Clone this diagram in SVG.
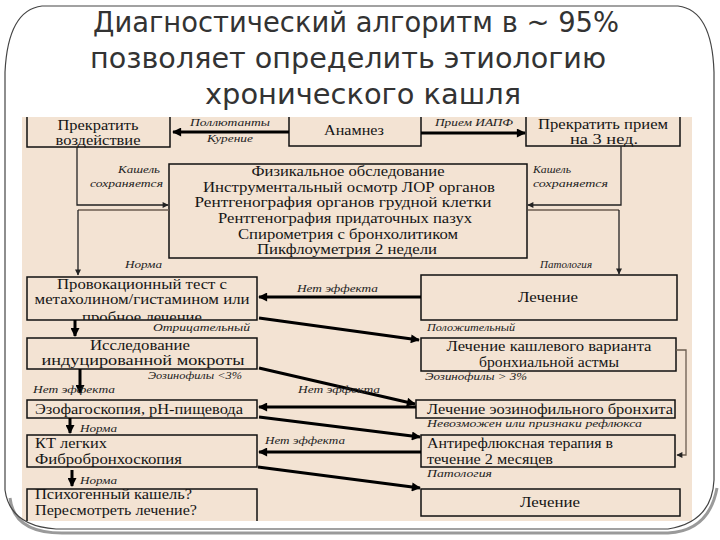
<svg xmlns="http://www.w3.org/2000/svg" width="720" height="540" viewBox="0 0 720 540">
<defs>
<style>
.title{font-family:"DejaVu Sans","Noto Sans",sans-serif;font-size:28px;fill:#333;text-anchor:middle}
.bx{fill:#F3E3D3;stroke:#111;stroke-width:1.5}
.t{font-family:"Liberation Serif","Times New Roman",serif;font-size:15px;fill:#151515}
.c{text-anchor:middle}
.lb{font-family:"Liberation Serif","Times New Roman",serif;font-style:italic;font-size:11px;fill:#222}
.thick{stroke:#000;stroke-width:3;fill:none}
.thin{stroke:#222;stroke-width:1.3;fill:none}
.gray{stroke:#6b5d50;stroke-width:1.3;fill:none}
</style>
<marker id="ah" viewBox="0 0 10 10" refX="9" refY="5" markerWidth="11" markerHeight="9" markerUnits="userSpaceOnUse" orient="auto"><path d="M0,0 L10,5 L0,10 Z" fill="#000"/></marker>
<marker id="as" viewBox="0 0 10 10" refX="9" refY="5" markerWidth="8" markerHeight="6" markerUnits="userSpaceOnUse" orient="auto"><path d="M0,0 L10,5 L0,10 Z" fill="#222"/></marker>
<clipPath id="frameClip"><path d="M42,6 H678 Q712,10 714,72 V480 Q712,522 668,529 H56 Q10,526 5,490 V72 Q8,10 42,6 Z"/></clipPath>
<clipPath id="imgClip"><rect x="22" y="117" width="670" height="404"/></clipPath>
<clipPath id="provClip"><rect x="27" y="277" width="230" height="43"/></clipPath>
<clipPath id="psyClip"><rect x="27" y="489" width="230" height="40"/></clipPath>
</defs>
<rect width="720" height="540" fill="#fff"/>
<g id="title">
<text class="title" x="356" y="32" textLength="526" lengthAdjust="spacingAndGlyphs">Диагностический алгоритм в ~ 95%</text>
<text class="title" x="348" y="68" textLength="516" lengthAdjust="spacingAndGlyphs">позволяет определить этиологию</text>
<text class="title" x="363" y="104" textLength="316" lengthAdjust="spacingAndGlyphs">хронического кашля</text>
</g>
<g clip-path="url(#frameClip)">
<g clip-path="url(#imgClip)">
<rect x="22" y="117" width="670" height="404" fill="#F3E3D3"/>
<g id="n-stop-exposure"><rect class="bx" x="27" y="105" width="143" height="42"/>
<text class="t c" x="98" y="130" textLength="81" lengthAdjust="spacingAndGlyphs">Прекратить</text>
<text class="t c" x="98" y="145" textLength="85" lengthAdjust="spacingAndGlyphs">воздействие</text></g>
<g id="n-anamnesis"><rect class="bx" x="289" y="105" width="132" height="41"/>
<text class="t c" x="354" y="135" textLength="60" lengthAdjust="spacingAndGlyphs">Анамнез</text></g>
<g id="n-stop-ace"><rect class="bx" x="526" y="105" width="154" height="41"/>
<text class="t c" x="603" y="129" textLength="130" lengthAdjust="spacingAndGlyphs">Прекратить прием</text>
<text class="t c" x="604" y="144" textLength="68" lengthAdjust="spacingAndGlyphs">на 3 нед.</text></g>
<g id="n-exam"><rect class="bx" x="169" y="164" width="358" height="94"/>
<text class="t c" x="348" y="176" textLength="193" lengthAdjust="spacingAndGlyphs">Физикальное обследование</text>
<text class="t c" x="349" y="192" textLength="292" lengthAdjust="spacingAndGlyphs">Инструментальный осмотр ЛОР органов</text>
<text class="t c" x="343" y="207" textLength="297" lengthAdjust="spacingAndGlyphs">Рентгенография органов грудной клетки</text>
<text class="t c" x="345" y="223" textLength="254" lengthAdjust="spacingAndGlyphs">Рентгенография  придаточных пазух</text>
<text class="t c" x="348" y="239" textLength="220" lengthAdjust="spacingAndGlyphs">Спирометрия с бронхолитиком</text>
<text class="t c" x="347" y="254" textLength="180" lengthAdjust="spacingAndGlyphs">Пикфлоуметрия 2 недели</text></g>
<g id="n-provocation"><rect class="bx" x="27" y="277" width="230" height="43"/>
<g clip-path="url(#provClip)">
<text class="t c" x="142" y="289" textLength="170" lengthAdjust="spacingAndGlyphs">Провокационный тест с</text>
<text class="t c" x="142" y="304" textLength="215" lengthAdjust="spacingAndGlyphs">метахолином/гистамином или</text>
<text class="t c" x="142" y="322" textLength="120" lengthAdjust="spacingAndGlyphs">пробное лечение</text></g></g>
<g id="n-sputum"><rect class="bx" x="27" y="338" width="230" height="31"/>
<text class="t c" x="140" y="350" textLength="100" lengthAdjust="spacingAndGlyphs">Исследование</text>
<text class="t c" x="143" y="365" textLength="203" lengthAdjust="spacingAndGlyphs">индуцированной мокроты</text></g>
<g id="n-esophago"><rect class="bx" x="27" y="400" width="230" height="18"/>
<text class="t" x="35" y="414" textLength="208" lengthAdjust="spacingAndGlyphs">Эзофагоскопия, pH-пищевода</text></g>
<g id="n-ct"><rect class="bx" x="27" y="435" width="230" height="32"/>
<text class="t" x="35" y="448" textLength="72" lengthAdjust="spacingAndGlyphs">КТ легких</text>
<text class="t" x="35" y="464" textLength="147" lengthAdjust="spacingAndGlyphs">Фибробронхоскопия</text></g>
<g id="n-psycho"><rect class="bx" x="27" y="489" width="230" height="50"/>
<g clip-path="url(#psyClip)">
<text class="t" x="35" y="499" textLength="157" lengthAdjust="spacingAndGlyphs">Психогенный кашель?</text></g>
<text class="t" x="35" y="515" textLength="162" lengthAdjust="spacingAndGlyphs">Пересмотреть лечение?</text></g>
<g id="n-treat1"><rect class="bx" x="421" y="275" width="256" height="45"/>
<text class="t c" x="548" y="302" textLength="60" lengthAdjust="spacingAndGlyphs">Лечение</text></g>
<g id="n-asthma"><rect class="bx" x="421" y="338" width="255" height="33"/>
<text class="t c" x="549" y="351" textLength="205" lengthAdjust="spacingAndGlyphs">Лечение кашлевого варианта</text>
<text class="t c" x="549" y="367" textLength="140" lengthAdjust="spacingAndGlyphs">бронхиальной астмы</text></g>
<g id="n-eos"><rect class="bx" x="416" y="400" width="259" height="18"/>
<text class="t" x="427" y="414" textLength="246" lengthAdjust="spacingAndGlyphs">Лечение эозинофильного бронхита</text></g>
<g id="n-antireflux"><rect class="bx" x="421" y="435" width="254" height="32"/>
<text class="t" x="427" y="448" textLength="186" lengthAdjust="spacingAndGlyphs">Антирефлюксная терапия в</text>
<text class="t" x="427" y="464" textLength="126" lengthAdjust="spacingAndGlyphs">течение 2 месяцев</text></g>
<g id="n-treat2"><rect class="bx" x="421" y="489" width="259" height="27"/>
<text class="t c" x="550" y="507" textLength="60" lengthAdjust="spacingAndGlyphs">Лечение</text></g>
<g id="connectors">
<path class="thick" d="M289,132 H173" marker-end="url(#ah)"/>
<path class="thick" d="M421,133 H525" marker-end="url(#ah)"/>
<path class="thin" d="M77,147 V205 H168" marker-end="url(#as)"/>
<path class="gray" d="M169,210 H78"/>
<path class="thin" d="M78,210 V275" marker-end="url(#as)"/>
<path class="thin" d="M621,146 V205 H528" marker-end="url(#as)"/>
<path class="gray" d="M528,210 H619"/>
<path class="thin" d="M619,210 V274" marker-end="url(#as)"/>
<path class="thick" d="M75,320 V336" marker-end="url(#ah)"/>
<path class="thick" d="M80,369 V393" marker-end="url(#ah)"/>
<path class="thick" d="M70,418 V433" marker-end="url(#ah)"/>
<path class="thick" d="M72,470 V486" marker-end="url(#ah)"/>
<path class="thick" d="M421,297 H259" marker-end="url(#ah)"/>
<path class="thick" d="M259,318 L419,340" marker-end="url(#ah)"/>
<path class="thick" d="M259,368 L415,404" marker-end="url(#ah)"/>
<path class="thick" d="M416,407 H259" marker-end="url(#ah)"/>
<path class="thick" d="M259,417 L420,437" marker-end="url(#ah)"/>
<path class="thick" d="M421,452 H259" marker-end="url(#ah)"/>
<path class="thick" d="M258,467 L420,488" marker-end="url(#ah)"/>
<path class="gray" d="M676,350 H686 V455 H677" marker-end="url(#as)"/>
</g>
<g id="labels">
<text class="lb" x="190" y="126" textLength="80" lengthAdjust="spacingAndGlyphs">Поллютанты</text>
<text class="lb" x="207" y="142" textLength="46" lengthAdjust="spacingAndGlyphs">Курение</text>
<text class="lb" x="435" y="126" textLength="78" lengthAdjust="spacingAndGlyphs">Прием ИАПФ</text>
<text class="lb" x="118" y="173" textLength="42" lengthAdjust="spacingAndGlyphs">Кашель</text>
<text class="lb" x="90" y="187" textLength="73" lengthAdjust="spacingAndGlyphs">сохраняется</text>
<text class="lb" x="533" y="173" textLength="38" lengthAdjust="spacingAndGlyphs">Кашель</text>
<text class="lb" x="533" y="187" textLength="75" lengthAdjust="spacingAndGlyphs">сохраняется</text>
<text class="lb" x="125" y="268" textLength="37" lengthAdjust="spacingAndGlyphs">Норма</text>
<text class="lb" x="540" y="268" textLength="52" lengthAdjust="spacingAndGlyphs">Патология</text>
<text class="lb" x="297" y="292" textLength="81" lengthAdjust="spacingAndGlyphs">Нет эффекта</text>
<text class="lb" x="153" y="331" textLength="97" lengthAdjust="spacingAndGlyphs">Отрицательный</text>
<text class="lb" x="427" y="331" textLength="88" lengthAdjust="spacingAndGlyphs">Положительный</text>
<text class="lb" x="148" y="379" textLength="94" lengthAdjust="spacingAndGlyphs">Эозинофилы &lt;3%</text>
<text class="lb" x="425" y="380" textLength="102" lengthAdjust="spacingAndGlyphs">Эозинофилы &gt; 3%</text>
<text class="lb" x="33" y="393" textLength="82" lengthAdjust="spacingAndGlyphs">Нет эффекта</text>
<text class="lb" x="298" y="393" textLength="82" lengthAdjust="spacingAndGlyphs">Нет эффекта</text>
<text class="lb" x="427" y="427" textLength="215" lengthAdjust="spacingAndGlyphs">Невозможен или признаки рефлюкса</text>
<text class="lb" x="80" y="432" textLength="37" lengthAdjust="spacingAndGlyphs">Норма</text>
<text class="lb" x="265" y="444" textLength="80" lengthAdjust="spacingAndGlyphs">Нет эффекта</text>
<text class="lb" x="427" y="477" textLength="65" lengthAdjust="spacingAndGlyphs">Патология</text>
<text class="lb" x="80" y="484" textLength="37" lengthAdjust="spacingAndGlyphs">Норма</text>
</g>
</g>
</g>
<g id="frame">
<path d="M10,498 Q14,533 62,533 H668 Q709,531 717,488" fill="none" stroke="#9a9a9a" stroke-width="3"/>
<path d="M42,6 H678 Q712,10 714,72 V480 Q712,522 668,529 H56 Q10,526 5,490 V72 Q8,10 42,6 Z" fill="none" stroke="#444" stroke-width="1.2"/>
</g>
</svg>
